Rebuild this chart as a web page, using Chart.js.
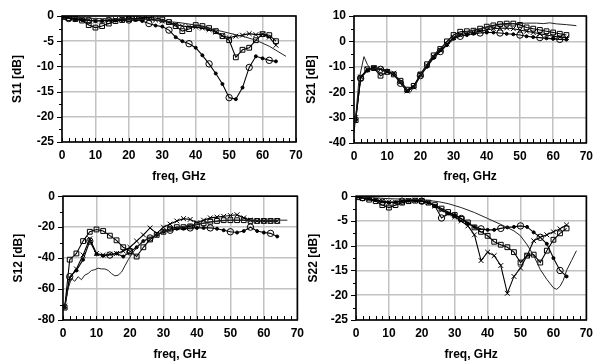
<!DOCTYPE html>
<html>
<head>
<meta charset="utf-8">
<title>S-parameters</title>
<script src="https://cdn.jsdelivr.net/npm/chart.js"></script>
<style>
    html, body { margin: 0; padding: 0; background: #fff; }
    body { width: 599px; height: 362px; position: relative; overflow: hidden; }
    canvas { position: absolute; }
</style>
</head>
<body>
<canvas id="s11" width="310" height="190" style="left:0px;top:0px"></canvas>
<canvas id="s21" width="300" height="190" style="left:299px;top:0px"></canvas>
<canvas id="s12" width="310" height="190" style="left:0px;top:181px"></canvas>
<canvas id="s22" width="300" height="190" style="left:299px;top:181px"></canvas>
<script>
// measured frequency grid, GHz (shared by the three measured traces)
var FREQ = [0.5, 2, 4, 6, 8, 10, 12, 14, 16, 18, 20, 22, 24, 26, 28, 30, 32,
            34, 36, 38, 40, 42, 44, 46, 48, 50, 52, 54, 56, 58, 60, 62, 64];

// ---------------- S11 ----------------
var S11_SQ = [-0.2, -0.4, -0.6, -0.9, -1.8, -2.3, -2.0, -1.5, -1.0, -0.8, -0.6, -0.5, -0.3, -0.3, -0.4, -0.7, -1.2,
              -2.0, -3.0, -2.6, -1.8, -2.0, -2.4, -3.0, -4.0, -4.8, -8.2, -6.7, -6.3, -4.8, -3.6, -3.8, -5.0];
var S11_X  = [-0.2, -0.3, -0.5, -0.6, -0.8, -1.0, -0.9, -0.8, -0.7, -0.6, -0.5, -0.5, -0.5, -0.6, -0.8, -1.0, -1.3,
              -1.7, -2.0, -2.1, -2.2, -2.4, -2.7, -3.2, -3.9, -4.3, -4.0, -3.8, -3.5, -3.7, -3.6, -4.2, -5.8];
var S11_O  = [-0.2, -0.5, -0.7, -0.8, -0.9, -1.0, -1.0, -0.9, -0.9, -0.8, -0.8, -0.8, -1.0, -1.5, -1.9, -2.1, -2.8,
              -4.2, -5.0, -5.5, -6.3, -7.8, -9.5, -11.4, -13.5, -16.2, -16.5, -14.2, -10.2, -8.0, -8.4, -8.8, -9.0];
var S11_MODEL_F = [0, 5, 10, 15, 20, 25, 30, 35, 40, 45, 50, 55, 58, 60, 62, 64, 67];
var S11_MODEL   = [0, -0.3, -0.5, -0.6, -0.6, -0.7, -1.0, -1.3, -1.8, -2.6, -3.4, -4.2, -4.8, -5.4, -6.0, -6.8, -8.0];

// ---------------- S21 ----------------
var S21_SQ = [-31, -14.5, -11, -10.5, -13.5, -12, -13, -15.5, -19, -17.5, -13, -9, -5.5, -3, 0, 2.5, 3.8,
              4.0, 4.2, 5.0, 5.8, 6.3, 6.8, 7.0, 7.0, 6.5, 5.5, 5.0, 4.5, 4.0, 3.5, 3.0, 2.5];
var S21_X  = [-30, -14, -11, -10.5, -11, -12, -12.5, -16, -19.5, -18, -13, -9.5, -6, -3.5, -1, 1.5, 2.5,
              3.2, 3.5, 4.0, 4.5, 5.0, 5.2, 5.3, 5.0, 4.5, 4.0, 3.5, 3.0, 2.5, 2.0, 1.7, 1.5];
var S21_O  = [-31, -14.5, -11.5, -10.5, -11, -11.5, -13, -16.5, -19.5, -18, -13.5, -10, -6.5, -4, -1.5, 1.0, 2.0,
              2.5, 3.0, 3.3, 3.5, 3.5, 3.3, 3.0, 2.8, 2.5, 2.0, 1.7, 1.5, 1.2, 1.0, 0.8, 0.7];
var S21_MODEL_F = [0, 0.5, 1.5, 3, 4, 5, 7, 9, 11, 13, 15, 17, 19, 21, 23, 25, 27, 29, 31, 33,
                   36, 40, 44, 48, 52, 55, 57, 59, 61, 64, 67];
var S21_MODEL   = [-36, -30, -15, -6, -9, -11, -10.5, -11, -12, -14, -18, -20, -16, -11, -7, -4, -1.5, 1, 2.5, 3.5,
                   4.5, 5.5, 6.5, 7, 7.2, 7.2, 7.0, 7.3, 6.9, 6.6, 6.2];

// ---------------- S12 ----------------
var S12_SQ = [-72, -41, -37, -29, -23, -21.5, -22.5, -25.5, -28.5, -33, -35.5, -39, -33, -28, -25, -23, -21,
              -20, -20, -19.5, -18.5, -17.5, -16.5, -16, -15.5, -15.5, -15.5, -15.5, -16, -16, -16, -16, -16];
var S12_X  = [-71, -53, -47, -38, -27.5, -37, -38, -37.5, -37, -35.5, -33, -29, -25, -20.5, -24, -20, -18,
              -16, -14.5, -15, -17, -15.5, -14, -13.5, -13, -12.5, -12, -14, -15.5, -16, -16, -16, -16];
var S12_O  = [-72, -52, -48, -41, -29, -37.5, -38.5, -38, -37, -39, -36, -33, -29, -27, -25, -23, -22,
              -21, -21, -20.5, -20.5, -20.5, -20.5, -21, -22, -23, -23.5, -22.5, -20, -22.5, -23.5, -24, -26];
var S12_MODEL_F = [0.5, 1.5, 2.5, 3.5, 4.5, 5.5, 6.5, 7.5, 8.5, 9.5, 10.5, 11.5, 12.5, 13.5, 14.5, 15.5, 16.5,
                   17.5, 18.5, 19.5, 21, 23, 25, 27, 30, 33, 36, 40, 45, 50, 55, 60, 64, 67];
var S12_MODEL   = [-73, -60, -53, -55, -52, -54, -51, -50, -48, -47.5, -46.5, -47, -47, -48, -50, -51.5, -51,
                   -49, -45, -41, -36, -31, -28, -26, -23, -21, -19.5, -18, -16.5, -15.5, -15.5, -15.5, -15.5, -15.5];

// ---------------- S22 ----------------
var S22_SQ = [-0.2, -0.4, -0.7, -1.0, -1.8, -2.3, -1.8, -1.3, -1.0, -0.9, -1.0, -1.3, -1.8, -2.5, -3.2, -3.8, -4.6,
              -5.3, -6.3, -7.2, -8.0, -9.2, -9.8, -10.3, -11.3, -13.4, -12.0, -11.8, -13.4, -11.0, -8.8, -7.5, -6.5];
var S22_X  = [-0.1, -0.3, -0.5, -0.8, -1.0, -1.2, -1.2, -1.0, -0.9, -0.8, -0.9, -1.3, -2.0, -2.8, -3.5, -4.2, -5.0,
              -6.0, -7.8, -13.0, -11.3, -12.0, -14.0, -19.6, -16.2, -14.5, -12.0, -9.0, -8.3, -7.8, -7.2, -6.6, -5.8];
var S22_O  = [-0.1, -0.3, -0.5, -0.8, -1.2, -1.3, -1.2, -1.0, -0.9, -0.9, -1.0, -1.3, -2.0, -4.4, -3.5, -3.8, -4.5,
              -5.5, -6.2, -6.6, -6.8, -6.8, -6.5, -6.3, -6.2, -6.0, -6.2, -7.3, -8.3, -9.6, -12.5, -15.0, -16.2];
var S22_MODEL_F = [0, 5, 10, 15, 20, 25, 28, 32, 36, 40, 44, 48, 50, 52, 54, 56, 58, 60, 61, 62, 63, 64, 65.5, 67];
var S22_MODEL   = [0, -0.3, -0.5, -0.6, -0.7, -1.1, -1.5, -2.3, -3.3, -4.5, -5.7, -7.0, -8.0, -9.8, -12.0, -14.8,
                   -16.8, -18.5, -18.8, -18.2, -17.0, -15.0, -13.0, -11.0];

var FONT = { family: "'Liberation Sans', Arial, sans-serif", size: 12, weight: 'bold' };
var GRID = '#c2c2c2';

function pts(freq, vals) {
    return freq.map(function (f, i) { return { x: f, y: vals[i] }; });
}

/**
 * Frame round the plot + the small tick marks (x minor inside, y outside)
 */
var framePlugin = {
    id: 'frame',
    afterDraw: function (chart) {
        var ctx = chart.ctx, a = chart.chartArea;
        var xs = chart.scales.x, ys = chart.scales.y;
        var o = chart.options.scales.y;
        ctx.save();
        ctx.strokeStyle = '#000';
        ctx.lineWidth = 1;
        ctx.beginPath();
        for (var v = 0; v <= 70; v += 2) {
            var px = Math.round(xs.getPixelForValue(v)) + 0.5;
            ctx.moveTo(px, a.bottom);
            ctx.lineTo(px, a.bottom - 4);
        }
        var half = o.ticks.stepSize / 2;
        for (var w = o.min, k = 0; w <= o.max + 0.001; w += half, k++) {
            var py = Math.round(ys.getPixelForValue(w)) + 0.5;
            ctx.moveTo(a.left, py);
            ctx.lineTo(a.left - (k % 2 === 0 ? 5 : 3), py);
        }
        ctx.stroke();
        ctx.lineWidth = 1.6;
        ctx.strokeRect(a.left, a.top, a.right - a.left, a.bottom - a.top);
        ctx.restore();
    }
};

/**
 * Cria um dos quatro graficos
 */
function makeChart(id, cfg) {
    var dotR = function (c) { return c.dataIndex % 3 === 1 ? 3.2 : 1.5; };
    var dotFill = function (c) { return c.dataIndex % 3 === 1 ? 'rgba(255,255,255,0)' : '#000'; };
    var line = { borderColor: '#000', borderWidth: 1.1, showLine: true, tension: 0, pointBorderColor: '#000', pointBorderWidth: 1 };

    var datasets = [
        Object.assign({ data: pts(cfg.modelF, cfg.model), pointRadius: 0 }, line, { borderColor: '#222', borderWidth: 1 }),
        Object.assign({ data: pts(FREQ, cfg.sq), pointStyle: 'rect', pointRadius: 3.4, pointBackgroundColor: 'rgba(255,255,255,0)' }, line),
        Object.assign({ data: pts(FREQ, cfg.cr), pointStyle: 'crossRot', pointRadius: 3.4 }, line),
        Object.assign({ data: pts(FREQ, cfg.ci), pointStyle: 'circle', pointRadius: dotR, pointBackgroundColor: dotFill }, line)
    ];

    return new Chart(document.getElementById(id), {
        type: 'scatter',
        data: { datasets: datasets },
        plugins: [framePlugin],
        options: {
            responsive: false,
            animation: false,
            events: [],
            layout: { padding: { left: cfg.padLeft, right: cfg.padRight, top: cfg.padTop, bottom: 0 } },
            plugins: { legend: { display: false }, tooltip: { enabled: false } },
            scales: {
                x: {
                    type: 'linear', min: 0, max: 70,
                    ticks: { stepSize: 10, color: '#000', font: FONT, padding: 6, maxRotation: 0 },
                    grid: { color: GRID, lineWidth: 1.5, drawTicks: false },
                    border: { display: false },
                    title: { display: true, text: 'freq, GHz', color: '#000', font: FONT, padding: { top: 0, bottom: cfg.titleBottom } },
                    afterFit: function (s) { s.height = cfg.xHeight; }
                },
                y: {
                    min: cfg.yMin, max: cfg.yMax,
                    ticks: { stepSize: cfg.yStep, color: '#000', font: FONT, padding: 8 },
                    grid: { color: GRID, lineWidth: 1.5, drawTicks: false },
                    border: { display: false },
                    title: { display: true, text: cfg.yTitle, color: '#000', font: FONT, padding: { top: 0, bottom: 0 } },
                    afterFit: function (s) { s.width = cfg.yWidth; }
                }
            }
        }
    });
}

makeChart('s11', {
    sq: S11_SQ, cr: S11_X, ci: S11_O, modelF: S11_MODEL_F, model: S11_MODEL,
    yMin: -25, yMax: 0, yStep: 5, yTitle: 'S11 [dB]',
    padLeft: 10, yWidth: 52, padRight: 14, padTop: 16, xHeight: 48, titleBottom: 6
});
makeChart('s21', {
    sq: S21_SQ, cr: S21_X, ci: S21_O, modelF: S21_MODEL_F, model: S21_MODEL,
    yMin: -40, yMax: 10, yStep: 10, yTitle: 'S21 [dB]',
    padLeft: 5, yWidth: 50, padRight: 11, padTop: 16, xHeight: 47, titleBottom: 6
});
makeChart('s12', {
    sq: S12_SQ, cr: S12_X, ci: S12_O, modelF: S12_MODEL_F, model: S12_MODEL,
    yMin: -80, yMax: 0, yStep: 20, yTitle: 'S12 [dB]',
    padLeft: 11, yWidth: 52, padRight: 12, padTop: 13, xHeight: 51, titleBottom: 9
});
makeChart('s22', {
    sq: S22_SQ, cr: S22_X, ci: S22_O, modelF: S22_MODEL_F, model: S22_MODEL,
    yMin: -25, yMax: 0, yStep: 5, yTitle: 'S22 [dB]',
    padLeft: 7, yWidth: 50, padRight: 9, padTop: 13, xHeight: 51, titleBottom: 9
});
</script>
</body>
</html>
